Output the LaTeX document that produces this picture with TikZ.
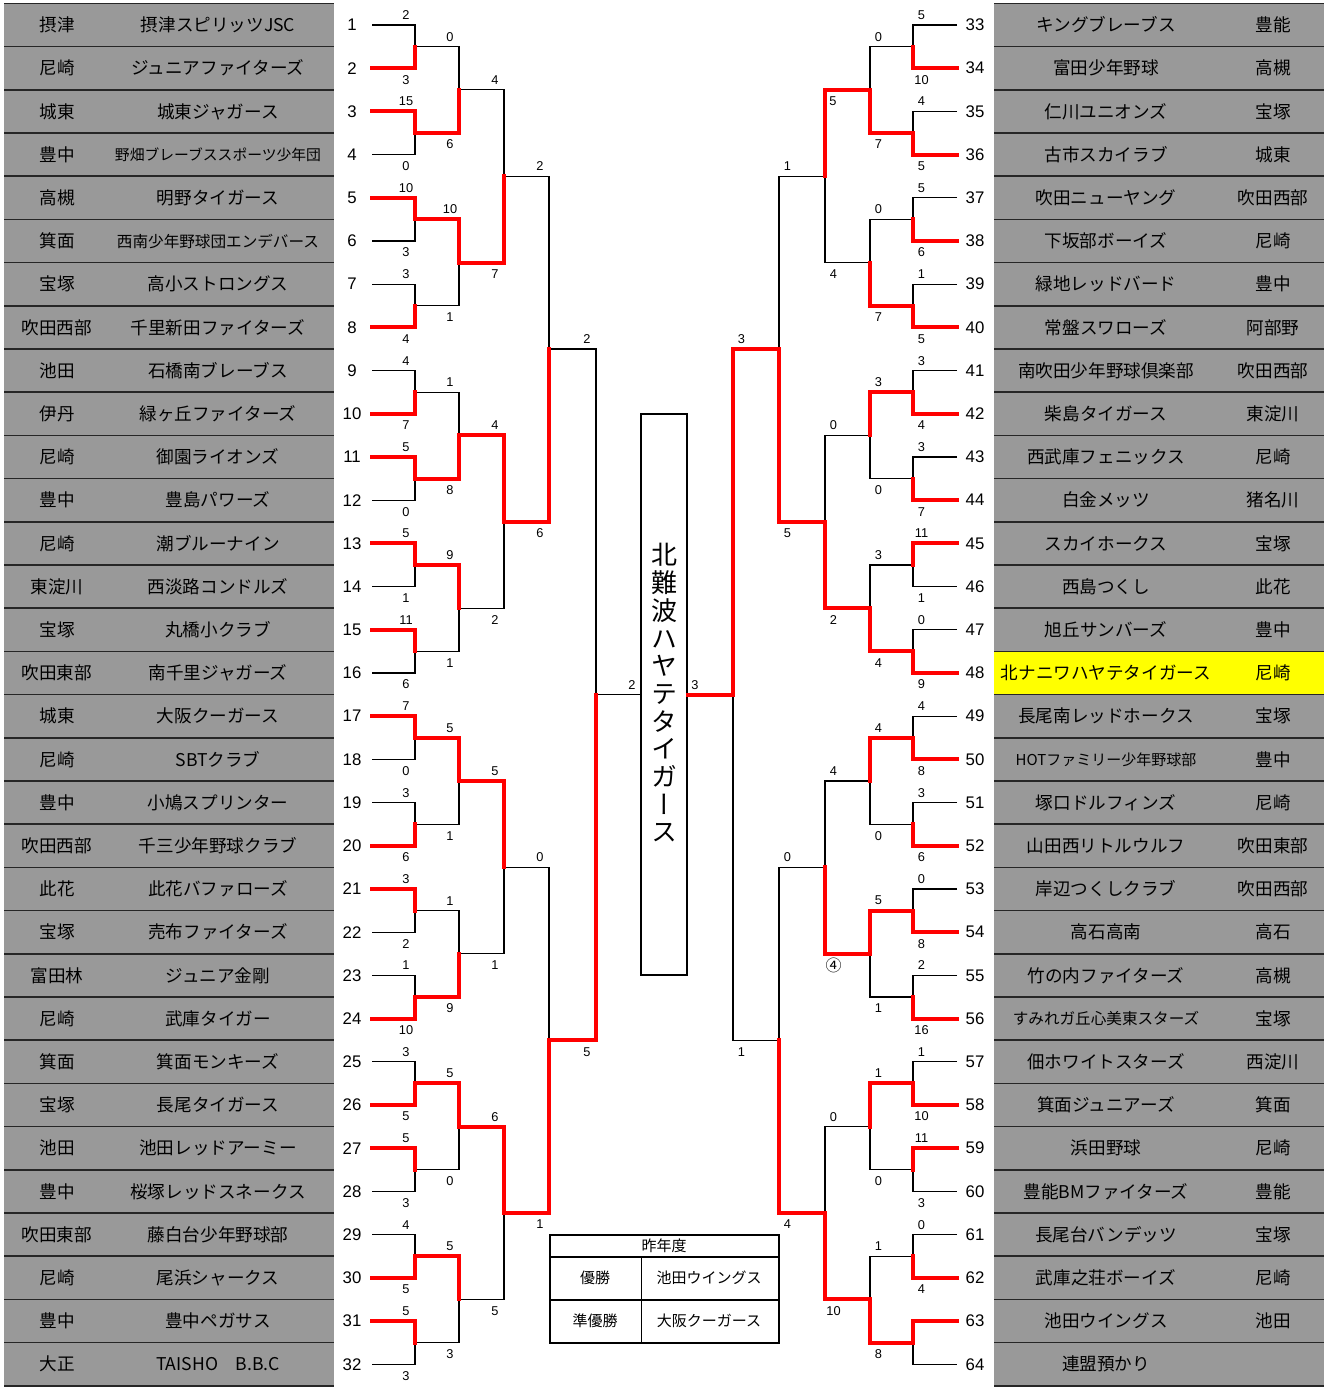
\documentclass[tikz,border=0pt]{standalone}
\usepackage{fontspec}
\setmainfont{Noto Sans CJK JP}
\newfontfamily\jpf{Noto Sans CJK JP}
\newfontfamily\numf{Liberation Sans}
\newfontfamily\vjp[RawFeature=+vert]{Noto Sans CJK JP}
\definecolor{boxgray}{RGB}{153,153,153}
\definecolor{winred}{RGB}{255,0,0}
\definecolor{hiyel}{RGB}{255,255,0}
\def\LM{1/1/2/3/2, 1/2/15/0/1, 1/3/10/3/1, 1/4/3/4/2, 1/5/4/7/2, 1/6/5/0/1, 1/7/5/1/1, 1/8/11/6/1, 1/9/7/0/1, 1/10/3/6/2, 1/11/3/2/1, 1/12/1/10/2, 1/13/3/5/2, 1/14/5/3/1, 1/15/4/5/2, 1/16/5/3/1, 2/1/0/6/2, 2/2/10/1/1, 2/3/1/8/2, 2/4/9/1/1, 2/5/5/1/1, 2/6/1/9/2, 2/7/5/0/1, 2/8/5/3/1, 3/1/4/7/2, 3/2/4/2/1, 3/3/5/1/1, 3/4/6/5/1, 4/1/2/6/2, 4/2/0/1/2, 5/1/2/5/2}
\def\RM{1/1/5/10/2, 1/2/4/5/2, 1/3/5/6/2, 1/4/1/5/2, 1/5/3/4/2, 1/6/3/7/2, 1/7/11/1/1, 1/8/0/9/2, 1/9/4/8/2, 1/10/3/6/2, 1/11/0/8/2, 1/12/2/16/2, 1/13/1/10/2, 1/14/11/3/1, 1/15/0/4/2, 1/16/{}/{}/1, 2/1/0/7/2, 2/2/0/7/2, 2/3/3/0/1, 2/4/3/4/2, 2/5/4/0/1, 2/6/5/1/1, 2/7/1/0/1, 2/8/1/8/2, 3/1/{}/4/1, 3/2/0/2/2, 3/3/4/{\jpf\fontsize{8}{9}\selectfont ④}/2, 3/4/0/10/2, 4/1/1/5/2, 4/2/0/4/2, 5/1/3/1/1}
\begin{document}
\begin{tikzpicture}[x=0.5pt,y=-0.5pt,
  sep/.style={draw=black!85,line width=0.8pt},
  br/.style={draw=black,line width=0.55pt},
  win/.style={draw=winred,line width=2pt,line join=miter,line cap=rect},
  txt/.style={inner sep=0pt,font=\fontsize{8.8}{10}\selectfont},
  numst/.style={inner sep=0pt,font=\numf\fontsize{8.4}{9}\selectfont},
  sc/.style={inner sep=0pt,font=\numf\fontsize{6.4}{7}\selectfont},
  tbl/.style={inner sep=0pt,font=\fontsize{7.5}{8.5}\selectfont}]
\useasboundingbox (0,0) rectangle (1328,1387);
\fill[white] (0,0) rectangle (1328,1387);
% team boxes
\fill[boxgray] (4,3.4) rectangle (334,1385.8);
\fill[boxgray] (994,3.4) rectangle (1324,1385.8);
\fill[hiyel] (994,651.4) rectangle (1324,694.6);
\foreach \k in {0,...,32} {
  \pgfmathsetmacro\yy{3.4+43.2*\k}
  \draw[sep] (4,\yy) -- (334,\yy);
  \draw[sep] (994,\yy) -- (1324,\yy);
}
% left teams
\foreach \i/\rg/\nm in {1/摂津/摂津スピリッツJSC, 2/尼崎/ジュニアファイターズ, 3/城東/城東ジャガース, 4/豊中/{\fontsize{7.4}{8}\selectfont 野畑ブレーブススポーツ少年団}, 5/高槻/明野タイガース, 6/箕面/{\fontsize{7.8}{8}\selectfont 西南少年野球団エンデバース}, 7/宝塚/高小ストロングス, 8/吹田西部/千里新田ファイターズ, 9/池田/石橋南ブレーブス, 10/伊丹/緑ヶ丘ファイターズ, 11/尼崎/御園ライオンズ, 12/豊中/豊島パワーズ, 13/尼崎/潮ブルーナイン, 14/東淀川/西淡路コンドルズ, 15/宝塚/丸橋小クラブ, 16/吹田東部/南千里ジャガーズ, 17/城東/大阪クーガース, 18/尼崎/SBTクラブ, 19/豊中/小鳩スプリンター, 20/吹田西部/千三少年野球クラブ, 21/此花/此花バファローズ, 22/宝塚/売布ファイターズ, 23/富田林/ジュニア金剛, 24/尼崎/武庫タイガー, 25/箕面/箕面モンキーズ, 26/宝塚/長尾タイガース, 27/池田/池田レッドアーミー, 28/豊中/桜塚レッドスネークス, 29/吹田東部/藤白台少年野球部, 30/尼崎/尾浜シャークス, 31/豊中/豊中ペガサス, 32/大正/TAISHO　B.B.C} {
  \pgfmathsetmacro\yc{25+43.2*(\i-1)}
  \node[txt] (lreg\i) at (57,\yc) {\rg};
  \node[txt] (lteam\i) at (218,\yc) {\nm};
  \node[numst] (lno\i) at (352,\yc) {\i};
}
% right teams
\foreach \i/\nm/\rg in {33/キングブレーブス/豊能, 34/富田少年野球/高槻, 35/仁川ユニオンズ/宝塚, 36/古市スカイラブ/城東, 37/吹田ニューヤング/吹田西部, 38/下坂部ボーイズ/尼崎, 39/緑地レッドバード/豊中, 40/常盤スワローズ/阿部野, 41/南吹田少年野球倶楽部/吹田西部, 42/柴島タイガース/東淀川, 43/西武庫フェニックス/尼崎, 44/白金メッツ/猪名川, 45/スカイホークス/宝塚, 46/西島つくし/此花, 47/旭丘サンバーズ/豊中, 48/北ナニワハヤテタイガース/尼崎, 49/長尾南レッドホークス/宝塚, 50/{\fontsize{7.5}{8}\selectfont HOTファミリー少年野球部}/豊中, 51/塚口ドルフィンズ/尼崎, 52/山田西リトルウルフ/吹田東部, 53/岸辺つくしクラブ/吹田西部, 54/高石高南/高石, 55/竹の内ファイターズ/高槻, 56/{\fontsize{7.8}{8}\selectfont すみれガ丘心美東スターズ}/宝塚, 57/佃ホワイトスターズ/西淀川, 58/箕面ジュニアーズ/箕面, 59/浜田野球/尼崎, 60/豊能BMファイターズ/豊能, 61/長尾台バンデッツ/宝塚, 62/武庫之荘ボーイズ/尼崎, 63/池田ウイングス/池田, 64/連盟預かり/{}} {
  \pgfmathsetmacro\yc{25+43.2*(\i-33)}
  \node[numst] (rno\i) at (975,\yc) {\i};
  \node[txt] (rteam\i) at (1106,\yc) {\nm};
  \node[txt] (rreg\i) at (1273,\yc) {\rg};
}
% left bracket, black lines and scores
\foreach \r/\k/\st/\sb/\w in \LM {
  \pgfmathsetmacro\xa{{372,415,459,504,549,596}[\r-1]}
  \pgfmathsetmacro\xb{{372,415,459,504,549,596}[\r]}
  \pgfmathsetmacro\ytop{25+43.2*((2*\k-2)*2^(\r-1)+(2^(\r-1)-1)/2)}
  \pgfmathsetmacro\ybot{\ytop+43.2*2^(\r-1)}
  \draw[br] (\xa,\ytop) -- (\xb,\ytop) -- (\xb,\ybot) -- (\xa,\ybot);
  \node[sc] (lst\r-\k) at (\xb-9,\ytop-10) {\st};
  \node[sc] (lsb\r-\k) at (\xb-9,\ybot+11.5) {\sb};
}
% right bracket, black lines and scores
\foreach \r/\k/\st/\sb/\w in \RM {
  \pgfmathsetmacro\xa{{957,913,870,825,779,733}[\r-1]}
  \pgfmathsetmacro\xb{{957,913,870,825,779,733}[\r]}
  \pgfmathsetmacro\ytop{25+43.2*((2*\k-2)*2^(\r-1)+(2^(\r-1)-1)/2)}
  \pgfmathsetmacro\ybot{\ytop+43.2*2^(\r-1)}
  \draw[br] (\xa,\ytop) -- (\xb,\ytop) -- (\xb,\ybot) -- (\xa,\ybot);
  \node[sc] (rst\r-\k) at (\xb+8.5,\ytop-10) {\st};
  \node[sc] (rsb\r-\k) at (\xb+8.5,\ybot+11.5) {\sb};
}
\node[sc] (rst3-1b) at (833,101) {5};
% final lines
\coordinate (lfin) at (596,694.6);
\coordinate (rfin) at (733,694.6);
\node[draw=black,line width=0.55pt,minimum width=23pt,minimum height=280.5pt,inner sep=0pt] (champ) at (664,694.5) {};
\draw[br] (lfin) -- (lfin -| champ.west);
\node[sc] (lfs) at (632,685) {2};
\node[sc] (rfs) at (695,685) {3};
% winning paths
\foreach \r/\k/\st/\sb/\w in \LM {
  \pgfmathsetmacro\xa{{372,415,459,504,549,596}[\r-1]}
  \pgfmathsetmacro\xb{{372,415,459,504,549,596}[\r]}
  \pgfmathsetmacro\ytop{25+43.2*((2*\k-2)*2^(\r-1)+(2^(\r-1)-1)/2)}
  \pgfmathsetmacro\ybot{\ytop+43.2*2^(\r-1)}
  \pgfmathsetmacro\ymid{(\ytop+\ybot)/2}
  \ifnum\w=1
    \draw[win] (\xa,\ytop) -- (\xb,\ytop) -- (\xb,\ymid);
  \else
    \draw[win] (\xa,\ybot) -- (\xb,\ybot) -- (\xb,\ymid);
  \fi
}
\foreach \r/\k/\st/\sb/\w in \RM {
  \pgfmathsetmacro\xa{{957,913,870,825,779,733}[\r-1]}
  \pgfmathsetmacro\xb{{957,913,870,825,779,733}[\r]}
  \pgfmathsetmacro\ytop{25+43.2*((2*\k-2)*2^(\r-1)+(2^(\r-1)-1)/2)}
  \pgfmathsetmacro\ybot{\ytop+43.2*2^(\r-1)}
  \pgfmathsetmacro\ymid{(\ytop+\ybot)/2}
  \ifnum\w=1
    \draw[win] (\xa,\ytop) -- (\xb,\ytop) -- (\xb,\ymid);
  \else
    \draw[win] (\xa,\ybot) -- (\xb,\ybot) -- (\xb,\ymid);
  \fi
}
\draw[win] (rfin) -- (rfin -| champ.east);
% champion title
\node[inner sep=0pt,align=center,font=\vjp\fontsize{13}{13.85}\selectfont] (title) at (664,693) {北\\難\\波\\ハ\\ヤ\\テ\\タ\\イ\\ガ\\ー\\ス};
% last year table
\draw[br] (550,1235) rectangle (779,1343);
\draw[br] (550,1257) -- (779,1257);
\draw[br] (550,1300) -- (779,1300);
\draw[br] (641.5,1257) -- (641.5,1343);
\node[tbl] (thead) at (664,1246) {昨年度};
\node[tbl] (t1a) at (595,1278) {優勝};
\node[tbl] (t1b) at (709,1278) {池田ウイングス};
\node[tbl] (t2a) at (595,1321) {準優勝};
\node[tbl] (t2b) at (709,1321) {大阪クーガース};
\end{tikzpicture}
\end{document}
